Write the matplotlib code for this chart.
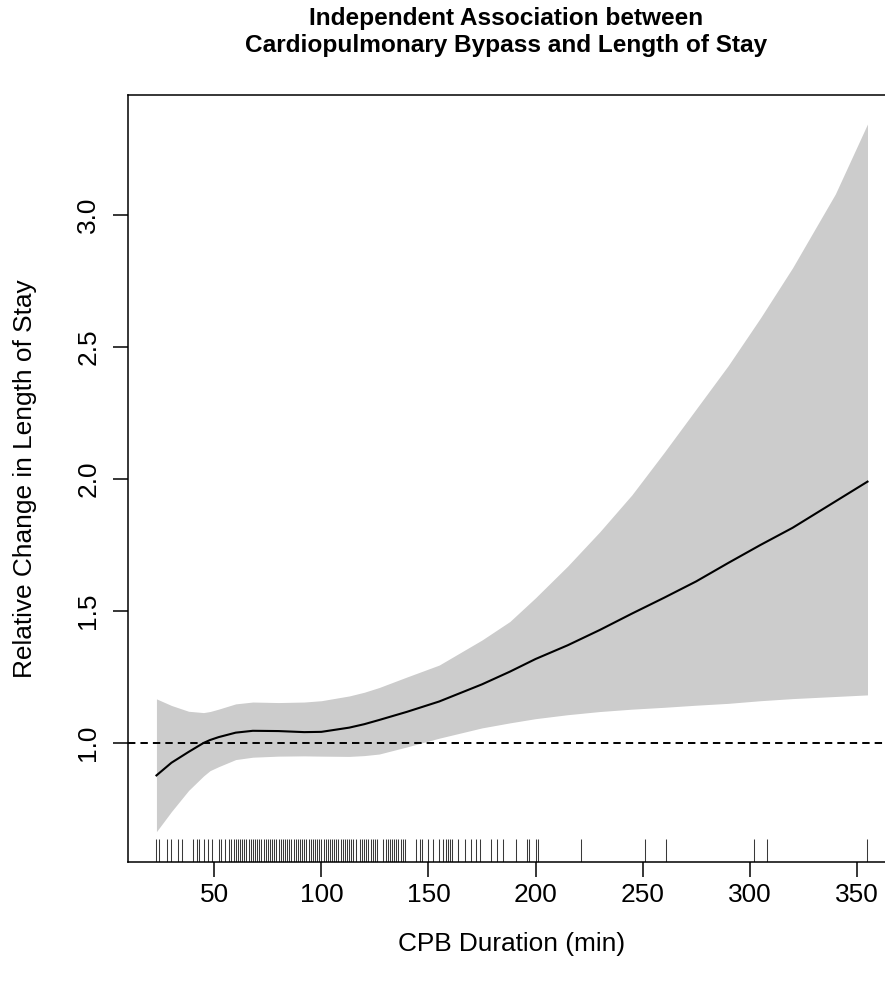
import matplotlib
matplotlib.use("Agg")
import matplotlib.pyplot as plt
from matplotlib import font_manager

# ── Font: narrow Helvetica look ─────────────────────────────────────────────
names = {f.name for f in font_manager.fontManager.ttflist}
if "Liberation Sans Narrow" in names:
    FONT = "Liberation Sans Narrow"
    SCALE = 1.0
else:
    FONT = "Liberation Sans"
    SCALE = 0.9
plt.rcParams["font.family"] = [FONT, "DejaVu Sans"]

# ── Data ───────────────────────────────────────────────────────────────────
cpb = [23, 30, 38, 45, 48, 52, 60, 68, 80, 92, 100, 113, 120, 127, 140, 155,
       175, 188, 200, 215, 230, 245, 260, 275, 290, 305, 320, 340, 355]
fit = [0.877, 0.925, 0.966, 1.000, 1.011, 1.022, 1.039, 1.046, 1.045, 1.041,
       1.042, 1.058, 1.071, 1.087, 1.118, 1.157, 1.222, 1.270, 1.318, 1.370,
       1.428, 1.490, 1.550, 1.612, 1.682, 1.750, 1.815, 1.915, 1.990]
upper = [1.167, 1.142, 1.120, 1.115, 1.119, 1.128, 1.148, 1.155, 1.153, 1.155,
         1.160, 1.178, 1.192, 1.210, 1.250, 1.295, 1.390, 1.460, 1.550, 1.670,
         1.800, 1.940, 2.100, 2.265, 2.430, 2.610, 2.800, 3.080, 3.345]
lower = [0.664, 0.740, 0.820, 0.875, 0.895, 0.910, 0.937, 0.946, 0.950, 0.951,
         0.950, 0.949, 0.952, 0.958, 0.985, 1.018, 1.057, 1.076, 1.092, 1.107,
         1.119, 1.128, 1.135, 1.143, 1.150, 1.160, 1.168, 1.176, 1.182]

# observed CPB durations (rug)
rug = [23, 24, 28, 30, 33, 35, 40, 42, 43, 45, 47, 49, 52, 53, 55, 57,
       58, 59, 60, 61, 62, 63, 64, 65, 66, 67, 68, 69, 70, 71, 72, 73, 74,
       75, 76, 77, 78, 79, 80, 81, 82, 83, 84, 85, 86, 87, 88, 89, 90, 91,
       92, 93, 94, 95, 96, 97, 98, 99, 100, 101, 102, 103, 104, 105, 106,
       107, 108, 109, 110, 111, 112, 113, 114, 115, 116, 118, 119, 120, 121,
       122, 123, 124, 125, 126, 129, 130, 131, 132, 133, 134, 135, 136, 137,
       138, 139, 144, 146, 147, 150, 152, 155, 157, 158, 159, 160, 161, 164,
       167, 170, 172, 174, 179, 182, 185, 191, 196, 197, 200, 201, 221, 251,
       261, 302, 308, 355]

xticks = [50, 100, 150, 200, 250, 300, 350]
yticks = [1.0, 1.5, 2.0, 2.5, 3.0]

# ── Plot ───────────────────────────────────────────────────────────────────
fig = plt.figure(figsize=(8.85, 9.84), dpi=100, facecolor="white")
ax = fig.add_axes([0.1446, 0.124, 0.8678, 0.7795])

ax.fill_between(cpb, lower, upper, color="#cccccc", linewidth=0, zorder=1)
ax.plot(cpb, fit, color="black", linewidth=1.5, zorder=3)
ax.axhline(1.0, color="black", linewidth=1.4, dashes=(3.8, 2.6), zorder=2)
ax.vlines(rug, 0, 0.03, transform=ax.get_xaxis_transform(),
          color="#3a3a3a", linewidth=0.75, zorder=2)

ax.set_xlim(9.7, 368.3)
ax.set_ylim(0.549, 3.455)
ax.set_xticks(xticks)
ax.set_xticklabels([str(v) for v in xticks])
ax.set_yticks(yticks)
ax.set_yticklabels([f"{v:.1f}" for v in yticks], rotation=90, va="center")

fs = 21 * SCALE
ax.tick_params(length=11, width=1.1, direction="out", pad=4,
               labelsize=fs, color="black")
ax.tick_params(axis="y", pad=9)
for s in ax.spines.values():
    s.set_linewidth(1.1)

ax.set_xlabel("CPB Duration (min)", fontsize=fs, labelpad=18)
ax.set_ylabel("Relative Change in Length of Stay", fontsize=fs, labelpad=28)

fig.text(0.572, 0.993, "Independent Association between\n"
         "Cardiopulmonary Bypass and Length of Stay",
         ha="center", va="top", fontsize=19.5 * SCALE, fontweight="bold",
         linespacing=1.25)

plt.savefig("out.png", dpi=100, facecolor="white")
